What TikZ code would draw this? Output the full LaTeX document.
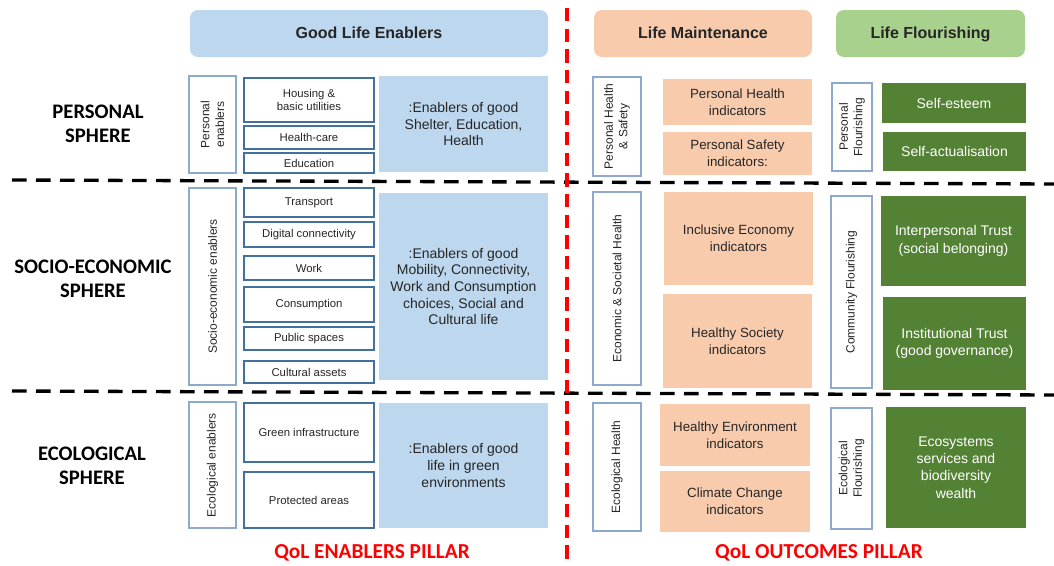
\documentclass[tikz,border=0pt]{standalone}
\usepackage{fontspec}
\setmainfont{Liberation Sans}
\newfontfamily\calfont{Carlito}

\newcommand\pxu{0.75pt}

\definecolor{enabblue}{HTML}{BDD7EE}
\definecolor{maintpeach}{HTML}{F8CBAD}
\definecolor{flourgreen}{HTML}{A9D18E}
\definecolor{darkgreen}{HTML}{548235}
\definecolor{itemline}{HTML}{41719C}
\definecolor{sideline}{HTML}{8EAACB}
\definecolor{pillarred}{HTML}{FF0000}
\definecolor{txt}{HTML}{262626}

\tikzset{
  sz/.style 2 args={minimum width=#1*\pxu, minimum height=#2*\pxu},
  header/.style={rounded corners=6pt, inner sep=0pt, text=txt,
    text height=0.7em, text depth=0em,
    font=\fontsize{12}{14}\selectfont\bfseries},
  sphere/.style={align=center, text=black,
    font=\calfont\fontsize{15.5}{18}\selectfont\bfseries},
  pillar/.style={text=pillarred,
    font=\calfont\fontsize{16}{19}\selectfont\bfseries},
  sidebox/.style={draw=sideline, line width=1pt, fill=white, rotate=90,
    inner sep=0pt, align=center, text=txt,
    font=\fontsize{9}{11}\selectfont},
  itembox/.style={draw=itemline, line width=1pt, fill=white, inner sep=0pt,
    align=center, text=txt, font=\fontsize{8.5}{10}\selectfont},
  enabbox/.style={fill=enabblue, inner sep=0pt, align=center, text=txt,
    font=\fontsize{10.5}{12.5}\selectfont},
  maintbox/.style={fill=maintpeach, inner sep=0pt, align=center, text=txt,
    font=\fontsize{10}{12.5}\selectfont},
  flourbox/.style={fill=darkgreen, inner sep=0pt, align=center, text=white,
    font=\fontsize{10.5}{13}\selectfont},
  spheresep/.style={line width=2.5pt, dash pattern=on 11pt off 7pt},
  pillarsep/.style={draw=pillarred, line width=2.5pt, dash pattern=on 10pt off 5.5pt}
}

\begin{document}
\begin{tikzpicture}[x=0.75pt, y=-0.75pt]
  \useasboundingbox (0,0) rectangle (1054,565);

  % headers
  \node[header, fill=enabblue, sz={358}{47}] (hEnab) at (369,33.5) {Good Life Enablers};
  \node[header, fill=maintpeach, sz={218}{47}] (hMaint) at (703,33.5) {Life Maintenance};
  \node[header, fill=flourgreen, sz={189}{47}] (hFlour) at (930.5,33.5) {Life Flourishing};

  % spheres
  \node[sphere] (sPers) at (98,124) {PERSONAL\\SPHERE};
  \node[sphere] (sSocio) at (93,279) {SOCIO-ECONOMIC\\SPHERE};
  \node[sphere] (sEco) at (92,466) {ECOLOGICAL\\SPHERE};

  % separators
  \coordinate (sepAl) at (12,180);
  \coordinate (sepAr) at (1054,184);
  \coordinate (sepBl) at (12,391);
  \coordinate (sepBr) at (1054,395);
  \coordinate (pilT) at (567,8);
  \coordinate (pilB) at (567,563);
  \draw[spheresep] (sepAl) -- (sepAr);
  \draw[spheresep] (sepBl) -- (sepBr);
  \draw[pillarsep] (pilT) -- (pilB);

  % enablers - personal
  \node[sidebox, sz={97}{47}] (vPers) at (212.5,124.5) {Personal\\enablers};
  \node[itembox, sz={130}{44}] (iHousing) at (309,100) {Housing \&\\basic utilities};
  \node[itembox, sz={130}{23}] (iHealth) at (309,137.5) {Health-care};
  \node[itembox, sz={130}{20}] (iEdu) at (309,163) {Education};
  \node[enabbox, sz={169}{96}] (bPers) at (463.5,124) {:Enablers of good\\Shelter, Education,\\Health};

  % enablers - socio-economic
  \node[sidebox, sz={197}{47}] (vSocio) at (212.5,286.5) {Socio-economic enablers};
  \node[itembox, sz={130}{29}] (iTrans) at (309,202.5) {Transport};
  \node[itembox, sz={130}{25}] (iDigi) at (309,234.5) {Digital connectivity};
  \node[itembox, sz={130}{24}] (iWork) at (309,268) {Work};
  \node[itembox, sz={130}{35}] (iCons) at (309,304.5) {Consumption};
  \node[itembox, sz={130}{23}] (iPub) at (309,338.5) {Public spaces};
  \node[itembox, sz={130}{22}] (iCult) at (309,372) {Cultural assets};
  \node[enabbox, sz={169}{187}] (bSocio) at (463.5,286.5) {:Enablers of good\\Mobility, Connectivity,\\Work and Consumption\\choices, Social and\\Cultural life};

  % enablers - ecological
  \node[sidebox, sz={126}{47}] (vEco) at (212.5,465) {Ecological enablers};
  \node[itembox, sz={130}{59}] (iGreen) at (309,432.5) {Green infrastructure};
  \node[itembox, sz={130}{56}] (iProt) at (309,500) {Protected areas};
  \node[enabbox, sz={169}{125}] (bEco) at (463.5,465.5) {:Enablers of good\\life in green\\environments};

  % outcomes - personal
  \node[sidebox, sz={99}{48}] (vPHS) at (617,126.5) {Personal Health\\\& Safety};
  \node[maintbox, sz={149}{46}] (pPHealth) at (737.5,102) {Personal Health\\indicators};
  \node[maintbox, sz={149}{43}] (pPSafety) at (737.5,153.5) {Personal Safety\\indicators:};
  \node[sidebox, sz={88}{40}] (vPFlour) at (852,127) {Personal\\Flourishing};
  \node[flourbox, sz={144}{40}] (gEsteem) at (954,103) {Self-esteem};
  \node[flourbox, sz={143}{39}] (gActual) at (954.5,151.5) {Self-actualisation};

  % outcomes - socio-economic
  \node[sidebox, sz={193}{48}] (vEcoSoc) at (617,288.5) {Economic \& Societal Health};
  \node[maintbox, sz={149}{93}] (pInclusive) at (738.5,238.5) {Inclusive Economy\\indicators};
  \node[maintbox, sz={149}{94}] (pHealthySoc) at (737.5,341) {Healthy Society\\indicators};
  \node[sidebox, sz={192}{41}] (vComm) at (851.5,292) {Community Flourishing};
  \node[flourbox, sz={145}{90}] (gInterp) at (953.5,241) {Interpersonal Trust\\(social belonging)};
  \node[flourbox, sz={143}{93}] (gInstit) at (954.5,343.5) {Institutional Trust\\(good governance)};

  % outcomes - ecological
  \node[sidebox, sz={128}{48}] (vEcoH) at (617,467) {Ecological Health};
  \node[maintbox, sz={150}{62}] (pEnv) at (735,435) {Healthy Environment\\indicators};
  \node[maintbox, sz={150}{61}] (pClim) at (735,501.5) {Climate Change\\indicators};
  \node[sidebox, sz={121}{41}] (vEcoF) at (851.5,468.5) {Ecological\\Flourishing};
  \node[flourbox, sz={140}{121}] (gEcosys) at (956,467.5) {Ecosystems\\services and\\biodiversity\\wealth};

  % pillars
  \node[pillar] (pilEnab) at (372,553) {QoL ENABLERS PILLAR};
  \node[pillar] (pilOut) at (819,553) {QoL OUTCOMES PILLAR};
\end{tikzpicture}
\end{document}
